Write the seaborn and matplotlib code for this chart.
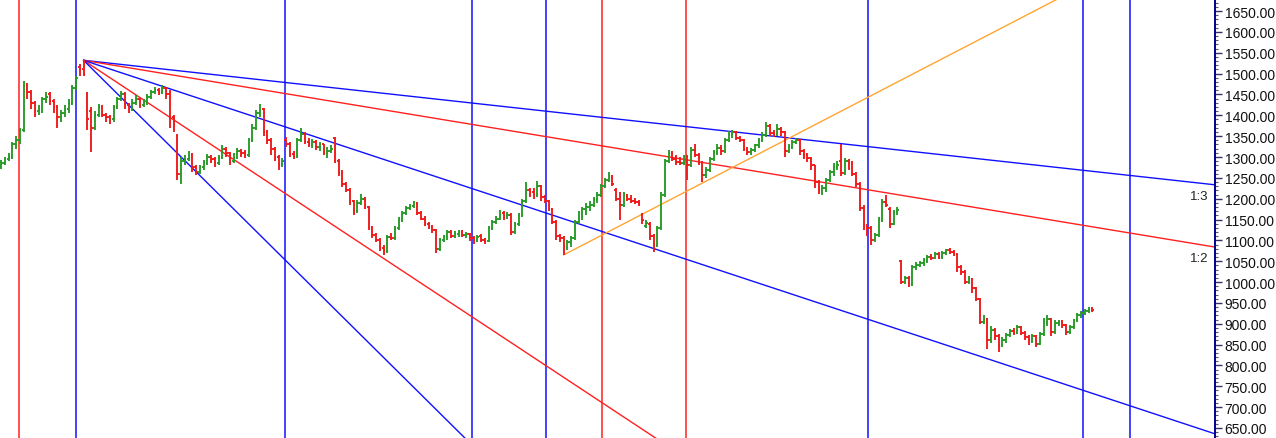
import numpy as np
import pandas as pd
import seaborn as sns
import matplotlib
matplotlib.use('Agg')
import matplotlib.pyplot as plt
from matplotlib.ticker import MultipleLocator, FormatStrFormatter

# weekly OHLC (one entry per bar)
opens = [1278, 1285, 1295, 1300, 1330, 1340, 1365, 1475, 1455, 1430,
         1410, 1415, 1440, 1450, 1435, 1420, 1395, 1405, 1415, 1430,
         1465, 1515, 1510, 1450, 1410, 1370, 1400, 1420, 1400, 1395,
         1390, 1420, 1440, 1450, 1425, 1415, 1430, 1440, 1425, 1430,
         1445, 1455, 1460, 1455, 1465, 1450, 1395, 1350, 1260, 1290,
         1295, 1305, 1275, 1265, 1275, 1285, 1300, 1295, 1285, 1300,
         1320, 1310, 1290, 1300, 1315, 1310, 1305, 1340, 1370, 1405,
         1415, 1360, 1340, 1320, 1300, 1280, 1340, 1330, 1308, 1302,
         1340, 1355, 1335, 1330, 1335, 1325, 1330, 1310, 1315, 1345,
         1290, 1262, 1235, 1222, 1195, 1170, 1190, 1200, 1180, 1130,
         1112, 1100, 1082, 1075, 1108, 1105, 1130, 1150, 1165, 1178,
         1183, 1190, 1165, 1152, 1140, 1135, 1125, 1080, 1100, 1108,
         1120, 1110, 1115, 1120, 1112, 1115, 1105, 1100, 1110, 1100,
         1098, 1130, 1145, 1152, 1165, 1158, 1160, 1120, 1140, 1160,
         1195, 1220, 1215, 1210, 1230, 1205, 1195, 1175, 1145, 1110,
         1105, 1085, 1095, 1105, 1145, 1165, 1175, 1180, 1185, 1200,
         1210, 1230, 1245, 1255, 1220, 1200, 1185, 1210, 1200, 1195,
         1192, 1160, 1135, 1140, 1110, 1090, 1130, 1210, 1290, 1310,
         1295, 1288, 1285, 1300, 1280, 1318, 1305, 1285, 1258, 1270,
         1295, 1312, 1322, 1315, 1340, 1355, 1360, 1345, 1340, 1320,
         1312, 1318, 1328, 1340, 1352, 1375, 1358, 1355, 1368, 1360,
         1315, 1325, 1335, 1340, 1315, 1305, 1298, 1280, 1240, 1220,
         1225, 1245, 1265, 1275, 1290, 1262, 1290, 1285, 1260, 1235,
         1178, 1135, 1130, 1100, 1112, 1150, 1192, 1175, 1140, 1168,
         1050, 1000, 1010, 995, 1035, 1042, 1045, 1052, 1060, 1058,
         1068, 1060, 1070, 1076, 1072, 1068, 1035, 1025, 1000, 1008,
         985, 960, 905, 912, 860, 885, 870, 850, 862, 872,
         882, 878, 892, 878, 868, 858, 870, 852, 875, 905,
         912, 880, 902, 905, 898, 880, 892, 908, 920, 925,
         930, 935]
highs = [1292, 1300, 1310, 1335, 1350, 1370, 1482, 1478, 1460, 1435,
         1425, 1445, 1455, 1455, 1440, 1425, 1412, 1425, 1440, 1472,
         1495, 1522, 1532, 1455, 1420, 1410, 1428, 1425, 1405, 1400,
         1425, 1445, 1458, 1455, 1430, 1438, 1448, 1442, 1438, 1450,
         1460, 1468, 1465, 1472, 1468, 1460, 1400, 1355, 1300, 1305,
         1315, 1310, 1280, 1282, 1292, 1308, 1305, 1300, 1305, 1328,
         1325, 1312, 1310, 1322, 1320, 1318, 1345, 1378, 1412, 1427,
         1418, 1365, 1345, 1325, 1305, 1298, 1348, 1335, 1315, 1345,
         1370, 1360, 1345, 1342, 1340, 1335, 1332, 1325, 1328, 1348,
         1295, 1268, 1240, 1225, 1198, 1198, 1212, 1205, 1182, 1135,
         1118, 1105, 1090, 1112, 1118, 1135, 1155, 1170, 1182, 1188,
         1195, 1193, 1170, 1158, 1145, 1138, 1128, 1105, 1112, 1125,
         1125, 1122, 1125, 1125, 1120, 1118, 1110, 1112, 1115, 1105,
         1135, 1150, 1158, 1172, 1170, 1168, 1165, 1145, 1165, 1200,
         1240, 1225, 1225, 1242, 1232, 1210, 1198, 1178, 1150, 1115,
         1110, 1100, 1110, 1150, 1170, 1180, 1190, 1195, 1205, 1215,
         1235, 1250, 1265, 1258, 1225, 1215, 1215, 1212, 1208, 1202,
         1198, 1165, 1148, 1145, 1115, 1135, 1215, 1295, 1318, 1315,
         1305, 1300, 1305, 1305, 1325, 1330, 1310, 1290, 1275, 1300,
         1318, 1330, 1328, 1345, 1362, 1365, 1362, 1350, 1342, 1325,
         1322, 1332, 1345, 1360, 1385, 1380, 1365, 1380, 1372, 1362,
         1330, 1340, 1345, 1342, 1320, 1310, 1300, 1282, 1245, 1232,
         1250, 1270, 1285, 1290, 1332, 1298, 1295, 1290, 1265, 1240,
         1185, 1140, 1135, 1118, 1155, 1200, 1208, 1180, 1172, 1180,
         1052, 1015, 1015, 1040, 1048, 1050, 1058, 1065, 1068, 1072,
         1072, 1075, 1080, 1082, 1078, 1070, 1040, 1028, 1015, 1010,
         988, 962, 920, 915, 895, 890, 875, 868, 878, 888,
         890, 898, 895, 882, 872, 875, 872, 880, 915, 920,
         915, 908, 910, 908, 900, 898, 912, 925, 930, 935,
         940, 940]
lows = [1272, 1280, 1290, 1295, 1320, 1330, 1360, 1440, 1415, 1395,
        1400, 1405, 1430, 1425, 1405, 1370, 1385, 1395, 1405, 1425,
        1460, 1495, 1495, 1365, 1312, 1365, 1395, 1395, 1385, 1380,
        1385, 1415, 1435, 1415, 1405, 1410, 1425, 1418, 1420, 1425,
        1440, 1450, 1448, 1450, 1440, 1370, 1360, 1245, 1235, 1280,
        1290, 1265, 1258, 1260, 1268, 1280, 1285, 1275, 1280, 1295,
        1300, 1280, 1285, 1295, 1300, 1298, 1300, 1335, 1365, 1395,
        1350, 1330, 1305, 1290, 1270, 1275, 1325, 1300, 1295, 1298,
        1335, 1330, 1325, 1322, 1318, 1315, 1305, 1298, 1310, 1285,
        1255, 1228, 1215, 1185, 1160, 1165, 1185, 1175, 1125, 1105,
        1095, 1075, 1065, 1070, 1100, 1100, 1125, 1145, 1160, 1172,
        1178, 1160, 1148, 1135, 1128, 1118, 1070, 1075, 1095, 1102,
        1105, 1105, 1108, 1108, 1105, 1098, 1092, 1095, 1095, 1092,
        1095, 1125, 1140, 1148, 1150, 1152, 1112, 1115, 1135, 1155,
        1190, 1205, 1200, 1205, 1195, 1190, 1170, 1140, 1100, 1095,
        1065, 1078, 1085, 1100, 1140, 1150, 1160, 1170, 1180, 1190,
        1205, 1225, 1240, 1230, 1195, 1150, 1180, 1195, 1190, 1188,
        1182, 1140, 1130, 1100, 1072, 1085, 1125, 1205, 1285, 1290,
        1280, 1280, 1280, 1245, 1275, 1300, 1280, 1240, 1250, 1265,
        1290, 1305, 1305, 1310, 1335, 1345, 1340, 1335, 1315, 1305,
        1305, 1312, 1322, 1335, 1348, 1350, 1348, 1350, 1350, 1300,
        1310, 1320, 1330, 1305, 1295, 1288, 1270, 1225, 1212, 1210,
        1215, 1240, 1255, 1268, 1255, 1258, 1270, 1255, 1228, 1170,
        1125, 1110, 1090, 1095, 1108, 1145, 1180, 1130, 1138, 1160,
        995, 995, 988, 990, 1030, 1035, 1038, 1045, 1052, 1055,
        1055, 1055, 1065, 1068, 1062, 1025, 1018, 995, 995, 975,
        955, 900, 900, 840, 855, 862, 832, 845, 855, 868,
        872, 875, 872, 862, 850, 855, 845, 850, 870, 895,
        870, 875, 895, 890, 872, 876, 888, 905, 915, 920,
        926, 928]
closes = [1285, 1295, 1300, 1330, 1340, 1365, 1475, 1455, 1430, 1410,
          1415, 1440, 1445, 1435, 1420, 1395, 1405, 1415, 1430, 1465,
          1490, 1510, 1500, 1390, 1370, 1400, 1420, 1400, 1395, 1390,
          1420, 1440, 1450, 1425, 1415, 1430, 1440, 1425, 1430, 1445,
          1455, 1460, 1455, 1465, 1450, 1395, 1380, 1260, 1290, 1295,
          1305, 1275, 1265, 1275, 1285, 1300, 1295, 1285, 1300, 1320,
          1310, 1290, 1300, 1315, 1310, 1305, 1340, 1370, 1405, 1415,
          1360, 1340, 1320, 1300, 1280, 1290, 1330, 1308, 1302, 1340,
          1355, 1335, 1330, 1335, 1325, 1330, 1310, 1315, 1320, 1290,
          1262, 1235, 1222, 1195, 1170, 1190, 1200, 1180, 1130, 1112,
          1100, 1082, 1075, 1108, 1105, 1130, 1150, 1165, 1178, 1183,
          1190, 1165, 1152, 1140, 1135, 1125, 1080, 1100, 1108, 1120,
          1110, 1115, 1120, 1112, 1115, 1105, 1100, 1108, 1100, 1098,
          1130, 1145, 1152, 1165, 1158, 1160, 1120, 1140, 1160, 1195,
          1220, 1215, 1210, 1230, 1205, 1195, 1175, 1145, 1110, 1105,
          1085, 1095, 1105, 1145, 1165, 1175, 1180, 1185, 1200, 1210,
          1230, 1245, 1255, 1235, 1200, 1185, 1210, 1200, 1195, 1192,
          1188, 1150, 1142, 1110, 1090, 1130, 1210, 1290, 1310, 1295,
          1288, 1285, 1300, 1280, 1318, 1305, 1285, 1258, 1270, 1295,
          1312, 1322, 1315, 1340, 1355, 1360, 1345, 1340, 1320, 1312,
          1318, 1328, 1340, 1352, 1375, 1358, 1355, 1368, 1360, 1315,
          1325, 1335, 1340, 1315, 1305, 1298, 1280, 1240, 1220, 1225,
          1245, 1265, 1275, 1282, 1262, 1290, 1285, 1260, 1235, 1178,
          1135, 1130, 1100, 1112, 1150, 1192, 1185, 1140, 1168, 1172,
          1000, 1010, 995, 1035, 1042, 1045, 1052, 1060, 1058, 1068,
          1060, 1070, 1076, 1072, 1068, 1035, 1025, 1000, 1008, 985,
          960, 905, 912, 860, 885, 870, 850, 862, 872, 882,
          878, 892, 878, 868, 858, 870, 852, 875, 905, 912,
          880, 902, 905, 898, 880, 892, 908, 920, 925, 930,
          935, 932]

# time cycle lines (bar numbers)
cycle_red = [4.8, 160.3, 182.7]
cycle_blue = [20.0, 75.7, 125.6, 145.3, 231.2, 288.5, 301.1]

# gann fan from the top at bar 22
pivot_bar = 22
pivot_price = 1532
gann_unit = 2.97  # price per bar on the 1x1
fan_names = ['1:3', '1:2', '1:1', '2:1', '3:1']
fan_mult = [1 / 3, 1 / 2, 1, 2, 3]
fan_colors = ['#1010ff', '#ff2020', '#1010ff', '#ff2020', '#1010ff']
fan_labels = ['1:3', '1:2']

# rising trend line from the swing low
trend_bars = [150, 209]
trend_prices = [1065, 1340]

x_max = 323.7
y_lim = (626, 1679)

sns.set_theme(style="white")
plt.rcParams['font.family'] = ['Liberation Sans', 'DejaVu Sans']

df = pd.DataFrame({'open': opens, 'high': highs, 'low': lows, 'close': closes})
df['bar'] = np.arange(len(df))
df['up'] = df['close'] >= df['open']

fig = plt.figure(figsize=(12.76, 4.39), dpi=100)
ax = fig.add_axes([0, 0, 1215 / 1276, 1])

for b in cycle_red:
    ax.axvline(b, color='#ff2020', lw=1.1, zorder=1)
for b in cycle_blue:
    ax.axvline(b, color='#1010ff', lw=1.1, zorder=1)

# fan lines
rows = []
for name, m in zip(fan_names, fan_mult):
    rows.append({'line': name, 'bar': pivot_bar, 'price': pivot_price})
    rows.append({'line': name, 'bar': x_max,
                 'price': pivot_price - m * gann_unit * (x_max - pivot_bar)})
fan_df = pd.DataFrame(rows)
sns.lineplot(data=fan_df, x='bar', y='price', hue='line', hue_order=fan_names,
             palette=dict(zip(fan_names, fan_colors)), estimator=None,
             sort=False, legend=False, lw=1.0, ax=ax, zorder=2)

slope = (trend_prices[1] - trend_prices[0]) / (trend_bars[1] - trend_bars[0])
trend_df = pd.DataFrame({'bar': [trend_bars[0], x_max],
                         'price': [trend_prices[0],
                                   trend_prices[0] + slope * (x_max - trend_bars[0])]})
sns.lineplot(data=trend_df, x='bar', y='price', color='#ffa530', lw=1.0,
             estimator=None, sort=False, ax=ax, zorder=2)

for name, m in zip(fan_names, fan_mult):
    if name in fan_labels:
        yv = pivot_price - m * gann_unit * (x_max - pivot_bar)
        ax.annotate(name, (x_max, yv), xytext=(-5, -8), textcoords='offset points',
                    ha='right', va='center', fontsize=9.5, color='#222222')

# OHLC bars
w = 0.45
cols = np.where(df['up'], '#259a25', '#f01818')
ax.vlines(df['bar'], df['low'], df['high'], colors=cols, lw=1.35, zorder=3)
ax.hlines(df['open'], df['bar'] - w, df['bar'], colors=cols, lw=1.35, zorder=3)
ax.hlines(df['close'], df['bar'], df['bar'] + w, colors=cols, lw=1.35, zorder=3)

ax.set_xlim(-0.27, x_max)
ax.set_ylim(*y_lim)
ax.set_xticks([])
ax.set_xlabel('')
ax.set_ylabel('')
ax.yaxis.tick_right()
ax.yaxis.set_major_locator(MultipleLocator(50))
ax.yaxis.set_minor_locator(MultipleLocator(10))
ax.yaxis.set_major_formatter(FormatStrFormatter('%.2f'))
ax.tick_params(axis='y', which='major', right=True, left=False, length=5, width=1,
               color='#333366', labelsize=10, labelcolor='#111111', pad=2)
ax.tick_params(axis='y', which='minor', right=True, left=False, length=2.5,
               width=0.8, color='#555577')
for s in ['top', 'left', 'bottom']:
    ax.spines[s].set_visible(False)
ax.spines['right'].set_color('#000090')
ax.spines['right'].set_linewidth(1.4)

fig.savefig('out.png', dpi=100)
